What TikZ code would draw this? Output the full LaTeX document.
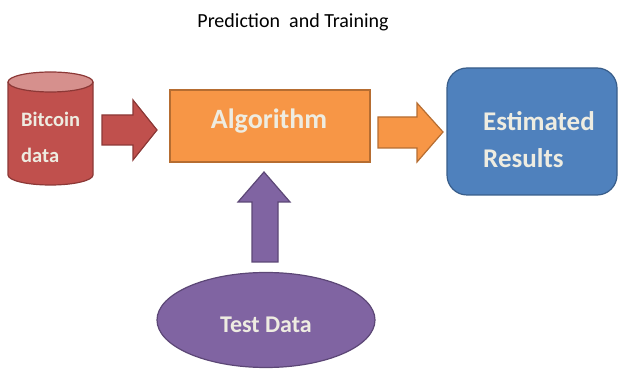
\documentclass[tikz,border=0pt]{standalone}
\usepackage{fontspec}
\setmainfont{Carlito}
\usetikzlibrary{shapes.geometric}
\definecolor{redF}{HTML}{C0504D}
\definecolor{redB}{HTML}{8C3836}
\definecolor{redT}{HTML}{D6908D}
\definecolor{oraF}{HTML}{F79646}
\definecolor{oraB}{HTML}{B66D31}
\definecolor{purF}{HTML}{8064A2}
\definecolor{purB}{HTML}{5C4776}
\definecolor{bluF}{HTML}{4F81BD}
\definecolor{bluB}{HTML}{385D8A}
\definecolor{txtc}{HTML}{EEECE1}
\tikzset{
  lbl/.style={text=txtc, inner sep=0pt},
  blockarrow/.style={line width=1.2pt, line join=miter},
}
\begin{document}
\begin{tikzpicture}[x=1pt,y=-1pt]
\useasboundingbox (0,0) rectangle (619,371);
% title
\node[inner sep=0pt, text=black, font=\fontsize{20}{24}\selectfont] (title) at (293,22) {Prediction\ \ and Training};
% cylinder
\fill[redF] (8,82) -- (8,175) arc[start angle=180,end angle=0,x radius=42.5,y radius=10] -- (93,82) -- cycle;
\draw[redB, line width=1.2pt] (8,82) -- (8,175) arc[start angle=180,end angle=0,x radius=42.5,y radius=10] -- (93,82);
\draw[redB, line width=1.2pt, fill=redT] (50.5,82) ellipse[x radius=42.5, y radius=10];
\node[lbl, font=\bfseries\fontsize{20.5}{25}\selectfont, anchor=west] (btc) at (21,119) {Bitcoin};
\node[lbl, font=\bfseries\fontsize{20.5}{25}\selectfont, anchor=west] (btc2) at (21,155) {data};
% red arrow
\draw[blockarrow, draw=redB, fill=redF] (102,115) -- (133,115) -- (133,100) -- (157,130) -- (133,160) -- (133,145) -- (102,145) -- cycle;
% algorithm
\node[draw=oraB, fill=oraF, line width=1.2pt, minimum width=200, minimum height=72, inner sep=0pt] (alg) at (270,126) {};
\node[lbl, font=\bfseries\fontsize{28}{32}\selectfont] (algt) at (269,121) {Algorithm};
% orange arrow
\draw[blockarrow, draw=oraB, fill=oraF] (378,117) -- (417,117) -- (417,103) -- (443,132) -- (417,162) -- (417,148) -- (378,148) -- cycle;
% estimated results
\draw[draw=bluB, fill=bluF, line width=1.2pt, rounded corners=20] (447,68) rectangle (617,195);
\node[lbl, font=\bfseries\fontsize{27}{32}\selectfont, anchor=west] (est) at (483,121) {Estimated};
\node[lbl, font=\bfseries\fontsize{27}{32}\selectfont, anchor=west] (res) at (483,158) {Results};
% purple arrow
\draw[blockarrow, draw=purB, fill=purF] (252,262) -- (252,202) -- (238,202) -- (264,172) -- (290,202) -- (278,202) -- (278,262) -- cycle;
% test data
\node[draw=purB, fill=purF, line width=1.2pt, ellipse, minimum width=218, minimum height=95, inner sep=0pt] (test) at (266,320) {};
\node[lbl, font=\bfseries\fontsize{24}{30}\selectfont] (testt) at (266,325) {Test Data};
\end{tikzpicture}
\end{document}
